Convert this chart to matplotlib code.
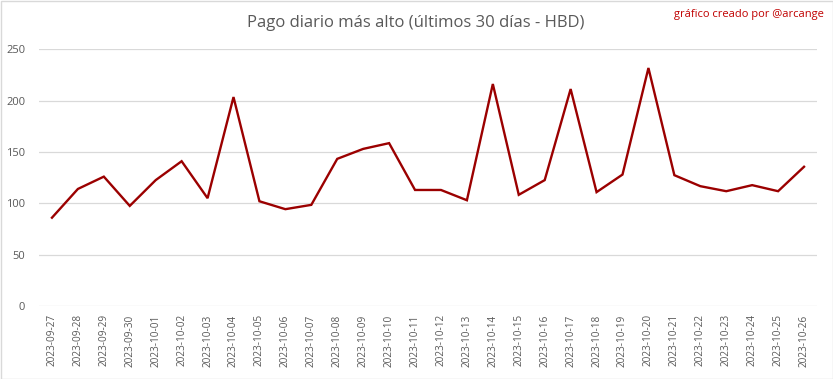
import matplotlib
matplotlib.use("Agg")
import matplotlib.pyplot as plt
from matplotlib.patches import Rectangle

dates = ["2023-09-27", "2023-09-28", "2023-09-29", "2023-09-30", "2023-10-01",
         "2023-10-02", "2023-10-03", "2023-10-04", "2023-10-05", "2023-10-06",
         "2023-10-07", "2023-10-08", "2023-10-09", "2023-10-10", "2023-10-11",
         "2023-10-12", "2023-10-13", "2023-10-14", "2023-10-15", "2023-10-16",
         "2023-10-17", "2023-10-18", "2023-10-19", "2023-10-20", "2023-10-21",
         "2023-10-22", "2023-10-23", "2023-10-24", "2023-10-25", "2023-10-26"]
values = [86, 114, 126, 97.5, 122.6, 141, 105, 203.5, 102, 94.3,
          98.5, 143.3, 153, 158.6, 113, 113, 103, 216.2, 108.3, 122.6,
          211.3, 110.9, 128, 231.8, 127.4, 116.7, 111.8, 117.7, 111.8, 135.6]
yticks = [0, 50, 100, 150, 200, 250]

plt.rcParams['font.family'] = ['Open Sans', 'DejaVu Sans']

fig = plt.figure(figsize=(8.33, 3.79), dpi=100)
ax = fig.add_axes([39/833, 1 - 306/379, (817 - 39)/833, (306 - 49.3)/379])

x = list(range(len(dates)))
ax.plot(x, values, color="#9b0000", linewidth=1.7, solid_joinstyle="miter")
ax.set_xlim(-0.5, len(dates) - 0.5)
ax.set_ylim(0, 250)
ax.set_yticks(yticks)
ax.set_yticklabels([str(v) for v in yticks], fontsize=8, color="#595959")
ax.set_xticks(x)
ax.set_xticklabels(dates, rotation=90, fontsize=7.2, color="#595959")
ax.tick_params(axis="both", length=0)
ax.tick_params(axis="y", pad=10)
ax.tick_params(axis="x", pad=6)
ax.grid(axis="y", color="#d9d9d9", linewidth=0.9)
ax.set_axisbelow(True)
for s in ax.spines.values():
    s.set_visible(False)

fig.text(416/833, 1 - 23/379, "Pago diario más alto (últimos 30 días - HBD)",
         ha="center", va="center", fontsize=12, color="#595959")
fig.text(824/833, 1 - 15/379, "gráfico creado por @arcange",
         ha="right", va="center", fontsize=8, color="#c00000")

fig.patches.append(Rectangle((0.5/833, 0.5/379), 1 - 1/833, 1 - 1/379,
                             transform=fig.transFigure, fill=False,
                             edgecolor="#d9d9d9", linewidth=1))

fig.savefig("out.png", dpi=100)
